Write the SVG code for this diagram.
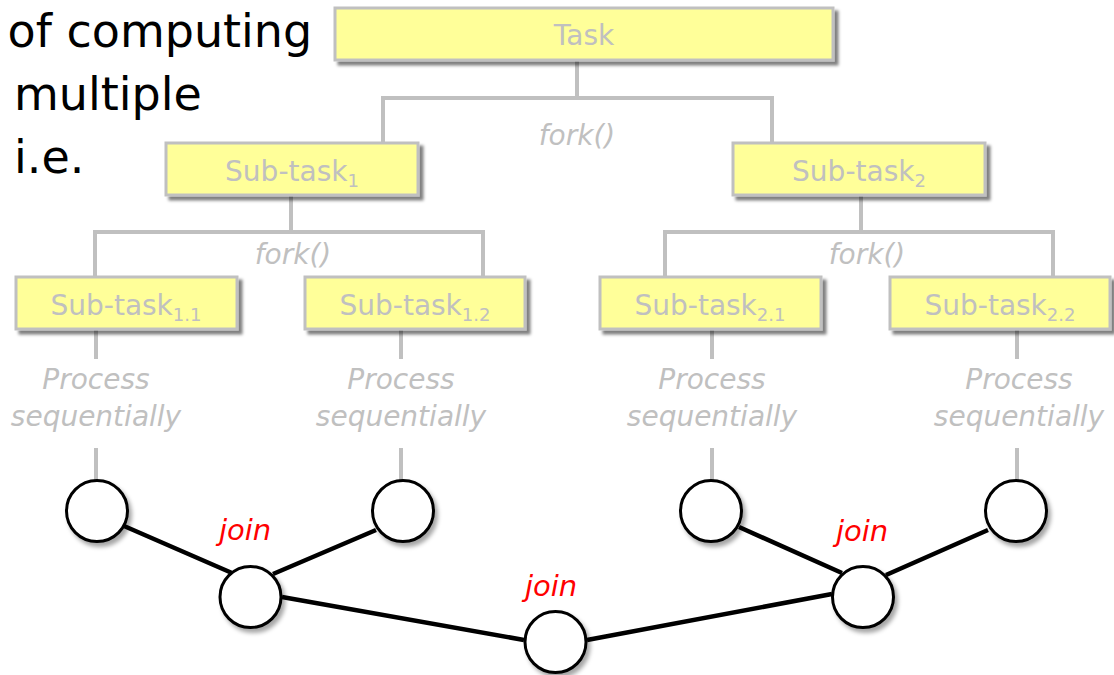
<svg xmlns="http://www.w3.org/2000/svg" width="1114" height="675" viewBox="0 0 1114 675">
  <defs>
    <filter id="boxShadow" x="-10%" y="-30%" width="125%" height="170%">
      <feDropShadow dx="4" dy="4" stdDeviation="1.6" flood-color="#000" flood-opacity="0.5"/>
    </filter>
    <filter id="dotShadow" x="-30%" y="-30%" width="170%" height="170%">
      <feDropShadow dx="3" dy="4" stdDeviation="2.2" flood-color="#000" flood-opacity="0.35"/>
    </filter>
  </defs>
  <style>
    .head{font-family:"DejaVu Sans","Noto Sans",sans-serif;font-size:46px;fill:#000}
    .box{fill:#ffff99;stroke:#c0c0c0;stroke-width:3;filter:url(#boxShadow)}
    .lbl{font-family:"DejaVu Sans","Noto Sans",sans-serif;font-size:28px;fill:#c0c0c0;text-anchor:middle}
    .sub{font-size:18px}
    .note{font-family:"DejaVu Sans","Noto Sans",sans-serif;font-style:italic;font-size:28px;fill:#c0c0c0;text-anchor:middle}
    .tree{fill:none;stroke:#c0c0c0;stroke-width:4}
    .joinline{fill:none;stroke:#000;stroke-width:4.5}
    .dot{fill:#fff;stroke:#000;stroke-width:3;filter:url(#dotShadow)}
    .joinlbl{font-family:"DejaVu Sans","Noto Sans",sans-serif;font-style:italic;font-size:29px;fill:#ff0000;text-anchor:middle}
  </style>

  <rect width="1114" height="675" fill="#fff"/>

  <!-- heading fragment -->
  <g id="heading">
    <text class="head" x="7.5" y="47">of computing</text>
    <text class="head" x="14" y="110">multiple</text>
    <text class="head" x="14" y="173">i.e.</text>
  </g>

  <!-- connectors -->
  <g id="connectors">
    <path class="tree" d="M577 60 V98 M383 143 V98 H772 V143"/>
    <path class="tree" d="M291 195 V232 M95 277 V232 H483 V277"/>
    <path class="tree" d="M861 195 V232 M665 277 V232 H1053 V277"/>
    <path class="tree" d="M96 329 V359 M96 448 V480 M401 329 V359 M401 448 V480 M712 329 V359 M712 448 V480 M1017 329 V359 M1017 448 V480"/>
    <path class="joinline" d="M124 526 L232 573 M376 530 L273 574 M282 597 L524 640 M587 640 L832 594 M739 527 L842 573 M988 530 L886 575"/>
  </g>

  <!-- fork labels -->
  <g id="fork-labels">
    <text class="note" x="577" y="145">fork()</text>
    <text class="note" x="293" y="264">fork()</text>
    <text class="note" x="867" y="264">fork()</text>
  </g>

  <!-- task boxes -->
  <g id="task">
    <rect class="box" x="335" y="8" width="498" height="52"/>
    <text class="lbl" x="584" y="45">Task</text>
  </g>
  <g id="subtask-1">
    <rect class="box" x="166" y="143" width="252" height="52"/>
    <text class="lbl" x="292" y="181">Sub-task<tspan class="sub" dy="6">1</tspan></text>
  </g>
  <g id="subtask-2">
    <rect class="box" x="733" y="143" width="252" height="52"/>
    <text class="lbl" x="859" y="181">Sub-task<tspan class="sub" dy="6">2</tspan></text>
  </g>
  <g id="subtask-1-1">
    <rect class="box" x="16" y="277" width="221" height="52"/>
    <text class="lbl" x="126" y="315">Sub-task<tspan class="sub" dy="6">1.1</tspan></text>
  </g>
  <g id="subtask-1-2">
    <rect class="box" x="305" y="277" width="220" height="52"/>
    <text class="lbl" x="415" y="315">Sub-task<tspan class="sub" dy="6">1.2</tspan></text>
  </g>
  <g id="subtask-2-1">
    <rect class="box" x="600" y="277" width="221" height="52"/>
    <text class="lbl" x="710" y="315">Sub-task<tspan class="sub" dy="6">2.1</tspan></text>
  </g>
  <g id="subtask-2-2">
    <rect class="box" x="890" y="277" width="220" height="52"/>
    <text class="lbl" x="1000" y="315">Sub-task<tspan class="sub" dy="6">2.2</tspan></text>
  </g>

  <!-- sequential work notes -->
  <g id="seq-1-1">
    <text class="note" x="96" y="389">Process</text>
    <text class="note" x="96" y="426">sequentially</text>
  </g>
  <g id="seq-1-2">
    <text class="note" x="401" y="389">Process</text>
    <text class="note" x="401" y="426">sequentially</text>
  </g>
  <g id="seq-2-1">
    <text class="note" x="712" y="389">Process</text>
    <text class="note" x="712" y="426">sequentially</text>
  </g>
  <g id="seq-2-2">
    <text class="note" x="1019" y="389">Process</text>
    <text class="note" x="1019" y="426">sequentially</text>
  </g>

  <!-- result nodes -->
  <g id="result-1-1"><circle class="dot" cx="97" cy="511" r="30.5"/></g>
  <g id="result-1-2"><circle class="dot" cx="403" cy="511" r="30.5"/></g>
  <g id="result-2-1"><circle class="dot" cx="711" cy="511" r="30.5"/></g>
  <g id="result-2-2"><circle class="dot" cx="1016" cy="511" r="30.5"/></g>
  <g id="join-1">
    <circle class="dot" cx="250.5" cy="597" r="30.5"/>
    <text class="joinlbl" x="245" y="540">join</text>
  </g>
  <g id="join-2">
    <circle class="dot" cx="863" cy="597" r="30.5"/>
    <text class="joinlbl" x="862" y="541">join</text>
  </g>
  <g id="join-root">
    <circle class="dot" cx="555.5" cy="642" r="30.5"/>
    <text class="joinlbl" x="551" y="596">join</text>
  </g>
</svg>
